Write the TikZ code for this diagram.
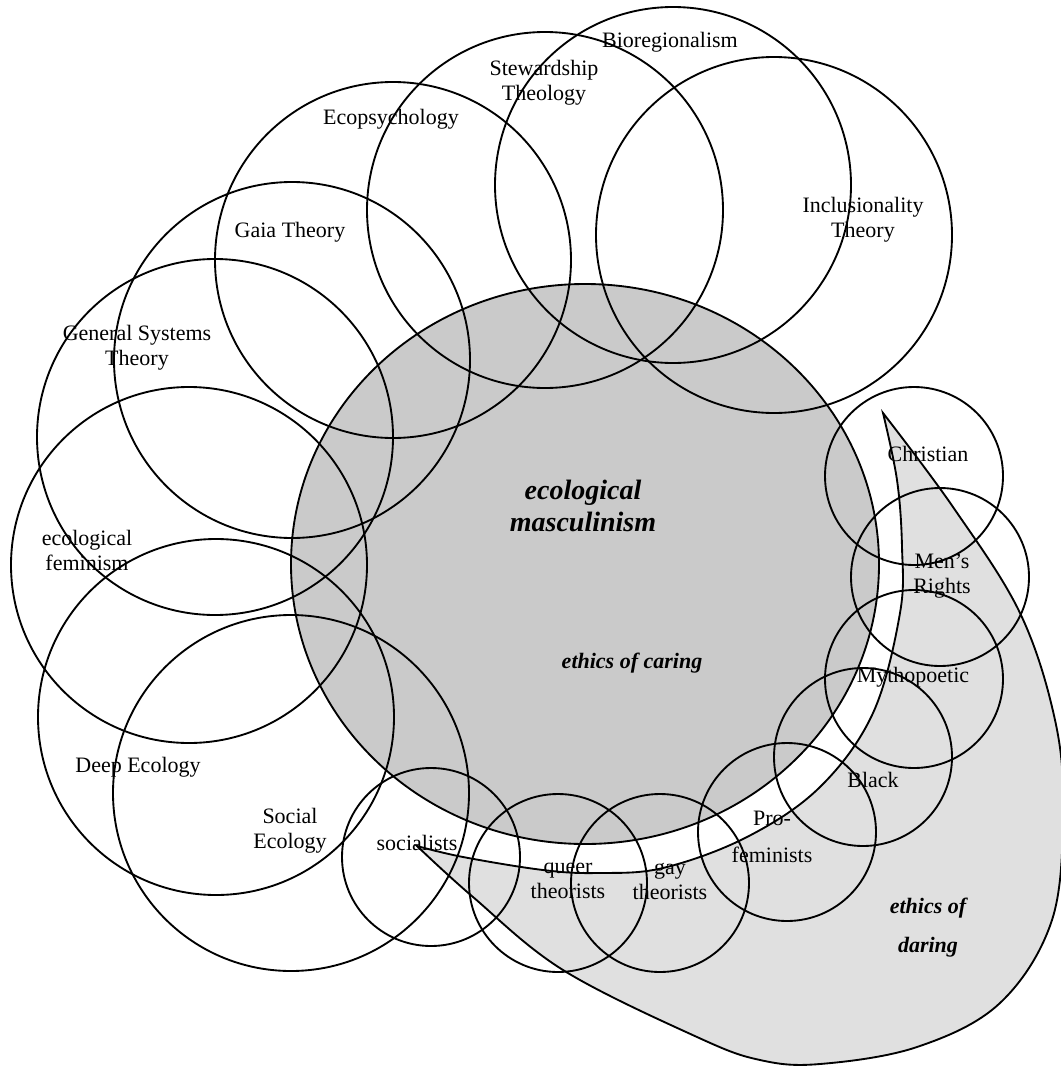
\documentclass[tikz,border=0pt]{standalone}
\usepackage{fontspec}
\setmainfont{Liberation Serif}

\tikzset{every picture/.style={line width=1.4pt}}
\tikzset{
  lbl/.style={inner sep=0.75pt, align=center, font=\fontsize{16.5}{18.75}\selectfont},
  bilbl/.style={lbl, font=\fontsize{16.5}{18.75}\selectfont\bfseries\itshape},
  biglbl/.style={lbl, font=\fontsize{21}{24}\selectfont\bfseries\itshape},
}

\begin{document}
\begin{tikzpicture}[x=0.75pt,y=0.75pt,yscale=-1,xscale=1]
\useasboundingbox (0,0) rectangle (1060,1067);

%Shape: Polygon Curved [ethics of daring]
\draw [fill={rgb, 255:red, 224; green, 224; blue, 224 }] plot [smooth, tension=0.6] coordinates {(883,413) (953,507) (1020,613) (1055,720) (1063,810) (1052,920) (1000,1003) (917,1047) (820,1064) (760,1060) (697,1037) (563,970) (473,897) (417,846)} -- plot [smooth, tension=0.6] coordinates {(417,846) (463,857) (543,870) (597,873) (663,868) (747,837) (820,787) (873,713) (900,613) (902,547) (897,480) (883,413)} -- cycle ;
%Shape: Ellipse [ecological masculinism]
\draw [fill={rgb, 255:red, 202; green, 202; blue, 202 }] (585,564) ellipse [x radius=294, y radius=280] ;

%Shape: Circle [Bioregionalism]
\draw (673,185) circle [radius=178] ;
%Shape: Circle [Stewardship Theology]
\draw (545,210) circle [radius=178] ;
%Shape: Circle [Inclusionality Theory]
\draw (774,235) circle [radius=178] ;
%Shape: Circle [Ecopsychology]
\draw (393,260) circle [radius=178] ;
%Shape: Circle [Gaia Theory]
\draw (292,360) circle [radius=178] ;
%Shape: Circle [General Systems Theory]
\draw (215,437) circle [radius=178] ;
%Shape: Circle [ecological feminism]
\draw (189,565) circle [radius=178] ;
%Shape: Circle [Deep Ecology]
\draw (216,717) circle [radius=178] ;
%Shape: Circle [Social Ecology]
\draw (291,793) circle [radius=178] ;

%Shape: Circle [Christian]
\draw (914,476) circle [radius=89] ;
%Shape: Circle [Men's Rights]
\draw (940,577) circle [radius=89] ;
%Shape: Circle [Mythopoetic]
\draw (914,679) circle [radius=89] ;
%Shape: Circle [Black]
\draw (863,757) circle [radius=89] ;
%Shape: Circle [Pro-feminists]
\draw (787,832) circle [radius=89] ;
%Shape: Circle [gay theorists]
\draw (660,883) circle [radius=89] ;
%Shape: Circle [queer theorists]
\draw (558,883) circle [radius=89] ;
%Shape: Circle [socialists]
\draw (431,857) circle [radius=89] ;

% Text Node
\draw (670,42) node [lbl] (bio) {Bioregionalism};
% Text Node
\draw (544,82.5) node [lbl] (stew) {Stewardship\\Theology};
% Text Node
\draw (863,220) node [lbl] (incl) {Inclusionality\\Theory};
% Text Node
\draw (391,119) node [lbl] (ecopsy) {Ecopsychology};
% Text Node
\draw (290,232) node [lbl] (gaia) {Gaia Theory};
% Text Node
\draw (137,348) node [lbl] (gst) {General Systems\\Theory};
% Text Node
\draw (87,550.5) node [lbl] (ecofem) {ecological\\feminism};
% Text Node
\draw (138,767) node [lbl] (deep) {Deep Ecology};
% Text Node
\draw (290,830.5) node [lbl] (social) {Social\\Ecology};
% Text Node
\draw (417,843) node [lbl] (socialists) {socialists};
% Text Node
\draw (568,880.5) node [lbl] (queer) {queer\\theorists};
% Text Node
\draw (670,881.5) node [lbl] (gay) {gay\\theorists};
% Text Node
\draw (772,836.5) node [lbl] (profem) {Pro-\\[9pt]feminists};
% Text Node
\draw (873,780) node [lbl] (black) {Black};
% Text Node
\draw (913,677) node [lbl] (myth) {Mythopoetic};
% Text Node
\draw (942,576.5) node [lbl] (mens) {Men’s\\Rights};
% Text Node
\draw (928,454) node [lbl] (christian) {Christian};
% Text Node
\draw (583,506) node [biglbl] (ecomasc) {ecological\\masculinism};
% Text Node
\draw (632,663) node [bilbl] (caring) {ethics of caring};
% Text Node
\draw (928,927.5) node [bilbl] (daring) {ethics of\\[10.5pt]daring};

\end{tikzpicture}
\end{document}
